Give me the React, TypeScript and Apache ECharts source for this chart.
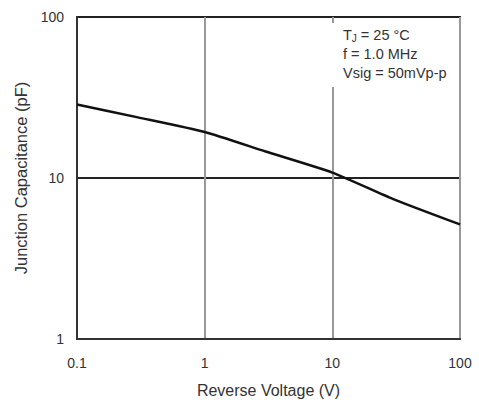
import React, { useEffect, useRef } from "react";
import * as echarts from "echarts";

const voltage = [0.1, 0.3, 1, 3, 10, 30, 100];
const capacitance = [28.6, 23.8, 19.3, 14.6, 10.8, 7.4, 5.15];
const annotationLines = ["T{sub|J} = 25 °C", "f = 1.0 MHz", "Vsig = 50mVp-p"];
const xTitle = "Reverse Voltage (V)";
const yTitle = "Junction Capacitance (pF)";

export default function App() {
  const ref = useRef<HTMLDivElement>(null);
  useEffect(() => {
    if (!ref.current) return;
    const chart = echarts.init(ref.current, undefined, { renderer: "svg" });
    const font = "'Liberation Sans', Arial, sans-serif";
    chart.setOption({
      animation: false,
      backgroundColor: "#ffffff",
      grid: {
        left: 77,
        right: 19,
        top: 17,
        bottom: 60,
        show: true,
        borderColor: "#333",
        borderWidth: 2,
        backgroundColor: "transparent",
      },
      xAxis: {
        type: "log",
        logBase: 10,
        min: 0.1,
        max: 100,
        name: xTitle,
        nameLocation: "middle",
        nameGap: 43,
        nameTextStyle: { fontFamily: font, fontSize: 16, color: "#333" },
        axisLine: { show: true, lineStyle: { color: "#333", width: 2 } },
        axisTick: { show: false },
        axisLabel: {
          fontFamily: font,
          fontSize: 14,
          color: "#333",
          margin: 17,
          formatter: (v: number) => (v < 1 ? String(Math.round(v * 10) / 10) : String(Math.round(v))),
        },
        splitLine: { show: true, lineStyle: { color: "#999", width: 2 } },
      },
      yAxis: {
        type: "log",
        logBase: 10,
        min: 1,
        max: 100,
        name: yTitle,
        nameLocation: "middle",
        nameGap: 48,
        nameTextStyle: { fontFamily: font, fontSize: 16.5, color: "#333" },
        axisLine: { show: true, lineStyle: { color: "#333", width: 2 } },
        axisTick: { show: false },
        axisLabel: {
          fontFamily: font,
          fontSize: 14,
          color: "#333",
          margin: 13,
          formatter: (v: number) => String(Math.round(v)),
        },
        splitLine: { show: true, lineStyle: { color: "#222", width: 2 } },
      },
      series: [
        {
          type: "line",
          data: voltage.map((v, i) => [v, capacitance[i]]),
          smooth: 0.2,
          showSymbol: false,
          lineStyle: { color: "#111", width: 2.5 },
          z: 5,
        },
      ],
      graphic: [
        {
          type: "rect",
          z: 10,
          shape: { x: 331, y: 23, width: 127, height: 64 },
          style: { fill: "#ffffff" },
        },
        ...annotationLines.map((t, i) => ({
          type: "text",
          z: 11,
          x: 343,
          y: 27 + i * 19,
          style: {
            text: t,
            fontFamily: font,
            fontSize: 14.5,
            fill: "#333",
            rich: {
              sub: { fontSize: 10, fontFamily: font, fill: "#333", verticalAlign: "bottom", padding: [6, 0, 0, 0] },
            },
          },
        })),
      ],
    });
    return () => chart.dispose();
  }, []);
  return <div ref={ref} style={{ width: 479, height: 403, position: "absolute", left: 0, top: 0 }} />;
}
